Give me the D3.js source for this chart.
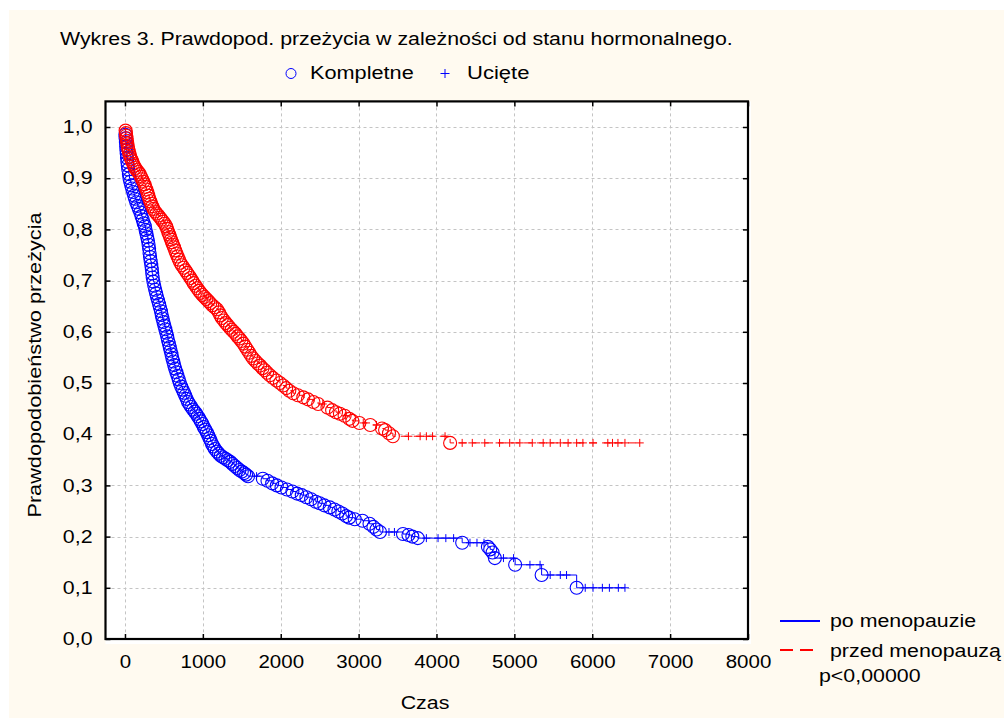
<!DOCTYPE html>
<html><head><meta charset="utf-8">
<script src="https://cdn.jsdelivr.net/npm/d3@7"></script>
<style>body{margin:0;background:#fff;} text{font-family:"Liberation Sans",Arial,sans-serif;fill:#000;}</style>
</head><body>
<svg id="c" width="1004" height="718"></svg>
<script>
const xTicks = [0,1000,2000,3000,4000,5000,6000,7000,8000];
const yTicks = [0,0.1,0.2,0.3,0.4,0.5,0.6,0.7,0.8,0.9,1.0];
const seriesNames = ["po menopauzie","przed menopauzą"];
const markerNames = ["Kompletne","Ucięte"];

// po menopauzie: complete (event) observations [time, survival]
const poEvents = [
[5,.985],[8,.978],[12,.970],[15,.962],[18,.955],[22,.948],[26,.940],[30,.932],[36,.925],[42,.917],[50,.908],[58,.900],[68,.893],[80,.886],[92,.880],[105,.873],[118,.866],[130,.860],[145,.853],[162,.846],[180,.840],[198,.833],[212,.826],[228,.819],[240,.812],[255,.806],[265,.799],[275,.792],[285,.785],[295,.778],[303,.770],[310,.762],[316,.754],[322,.746],[330,.738],[338,.730],[345,.722],[350,.714],[356,.706],[365,.698],[376,.690],[388,.682],[400,.675],[412,.668],[425,.661],[438,.654],[450,.647],[462,.640],[472,.633],[482,.626],[494,.619],[506,.612],[518,.605],[530,.598],[542,.591],[552,.584],[564,.577],[575,.570],[586,.563],[597,.556],[608,.549],[620,.542],[632,.535],[645,.528],[660,.521],[675,.514],[690,.507],[705,.500],[722,.493],[740,.487],[758,.481],[775,.475],[792,.469],[810,.463],[830,.458],[852,.453],[873,.448],[895,.444],[915,.440],[935,.435],[955,.430],[975,.425],[995,.420],[1012,.414],[1030,.409],[1050,.404],[1068,.398],[1085,.392],[1100,.387],[1118,.381],[1136,.376],[1155,.371],[1180,.366],[1205,.362],[1230,.358],[1260,.355],[1290,.352],[1320,.349],[1350,.346],[1380,.342],[1410,.338],[1440,.334],[1470,.330],[1500,.327],[1530,.324],[1555,.321],[1580,.318],
[1770,.313],[1830,.309],[1890,.304],[1950,.300],[2010,.296],[2080,.292],[2150,.288],[2210,.284],[2270,.281],[2330,.277],[2390,.273],[2450,.268],[2500,.265],[2560,.261],[2630,.257],[2690,.253],[2740,.249],[2790,.245],[2840,.240],[2880,.237],[2950,.234],[3050,.231],[3140,.225],[3190,.219],[3230,.214],[3275,.209],
[3570,.205],[3640,.203],[3690,.200],[3760,.197],[4330,.188],[4660,.180],[4690,.175],[4720,.169],[4750,.158],[5010,.145],[5350,.125],[5800,.100]
];
// po menopauzie: censored observations
const poCensored = [
[1690,.318],[3390,.209],[3460,.209],[3870,.197],[4020,.197],[4120,.197],[4220,.197],[4430,.188],[4520,.188],[4610,.188],[4860,.158],[4990,.158],[5200,.145],[5330,.145],[5460,.125],[5590,.125],[5670,.125],[5910,.100],[6010,.100],[6130,.100],[6220,.100],[6335,.100],[6420,.100]
];

// przed menopauzą: complete (event) observations
const przedEvents = [
[8,.993],[12,.988],[16,.983],[20,.978],[25,.973],[30,.968],[36,.962],[42,.957],[50,.952],[58,.947],[68,.942],[80,.937],[92,.933],[105,.928],[118,.924],[132,.920],[150,.916],[170,.912],[190,.908],[205,.903],[220,.898],[235,.893],[250,.888],[262,.883],[275,.878],[288,.872],[300,.866],[312,.860],[324,.855],[336,.850],[350,.845],[366,.840],[385,.835],[405,.831],[428,.827],[450,.823],[470,.819],[490,.815],[510,.811],[528,.806],[542,.801],[555,.795],[568,.790],[580,.785],[592,.780],[604,.775],[616,.770],[630,.765],[645,.759],[660,.753],[675,.747],[692,.741],[710,.735],[730,.730],[752,.725],[775,.720],[798,.715],[820,.710],[842,.705],[862,.700],[882,.695],[905,.690],[928,.685],[950,.680],[972,.676],[995,.672],[1020,.668],[1045,.664],[1070,.660],[1095,.656],[1120,.652],[1150,.648],[1180,.644],[1205,.638],[1225,.632],[1245,.627],[1270,.622],[1295,.617],[1320,.613],[1345,.608],[1370,.604],[1395,.600],[1420,.596],[1445,.591],[1470,.587],[1495,.582],[1520,.577],[1545,.571],[1570,.565],[1595,.559],[1620,.553],[1645,.548],[1675,.543],[1705,.538],[1735,.534],[1765,.529],[1795,.525],[1825,.520],[1860,.515],[1900,.510],[1945,.505],[1990,.500],[2030,.495],[2070,.490],[2110,.485],[2160,.480],[2220,.476],[2290,.472],[2350,.468],[2420,.463],[2480,.459],[2600,.452],[2660,.447],[2710,.443],[2760,.440],[2820,.436],[2880,.430],[2920,.426],[3010,.422],[3150,.418],[3300,.411],[3340,.408],[3390,.402],[3440,.396],[4175,.383]
];
// przed menopauzą: censored observations
const przedCensored = [
[2540,.459],[2830,.436],[3060,.422],[3230,.418],[3640,.396],[3790,.396],[3870,.396],[3950,.396],[4110,.396],[4330,.383],[4460,.383],[4620,.383],[4810,.383],[4940,.383],[5070,.383],[5230,.383],[5370,.383],[5460,.383],[5590,.383],[5690,.383],[5800,.383],[5880,.383],[6010,.383],[6200,.383],[6260,.383],[6330,.383],[6420,.383],[6610,.383]
];

const BLUE = "#0000ff", RED = "#ff0000";
const FS = 17.5, STR = 1.22;
const svg = d3.select("#c");
const L = 105.5, R = 748, T = 101.4, B = 639;
const x = d3.scaleLinear().domain([-250, 8000]).range([L, R]);
const y = d3.scaleLinear().domain([0, 1.05]).range([B, T]);
const fmt = v => d3.format(".1f")(v).replace(".", ",");

function stretch(sel, f) {
  sel.each(function(){
    const len = this.getComputedTextLength();
    d3.select(this).attr("textLength", len * f).attr("lengthAdjust", "spacingAndGlyphs");
  });
}

// backgrounds
svg.append("rect").attr("x",0).attr("y",0).attr("width",1004).attr("height",718).attr("fill","#ffffff");
svg.append("rect").attr("x",9).attr("y",10).attr("width",995).attr("height",708).attr("fill","#fffaf0");
svg.append("rect").attr("x",L).attr("y",T).attr("width",751-L).attr("height",644-T).attr("fill","#ffffff");

// grid
const grid = svg.append("g").attr("stroke","#c4c4c4").attr("stroke-width",1).attr("stroke-dasharray","3,3");
grid.selectAll("line.gx").data(xTicks.filter(d => d < 8000)).join("line")
  .attr("x1", d => Math.round(x(d))+0.5).attr("x2", d => Math.round(x(d))+0.5).attr("y1", T).attr("y2", B);
grid.selectAll("line.gy").data(yTicks.filter(d => d > 0)).join("line")
  .attr("y1", d => Math.round(y(d))+0.5).attr("y2", d => Math.round(y(d))+0.5).attr("x1", L).attr("x2", R);

// curves
function drawSeries(events, censored, color, dash) {
  const last = censored[censored.length-1];
  const pts = [[0,1]].concat(events).concat([[last[0], last[1]]]);
  const line = d3.line().x(d => x(d[0])).y(d => y(d[1])).curve(d3.curveStepAfter);
  svg.append("path").datum(pts).attr("d", line).attr("fill","none").attr("stroke",color)
    .attr("stroke-width",1).attr("stroke-dasharray", dash);
  svg.append("g").selectAll("circle").data(events).join("circle")
    .attr("cx", d => x(d[0])).attr("cy", d => y(d[1])).attr("r", 6.5)
    .attr("fill","none").attr("stroke",color).attr("stroke-width",1.1);
  svg.append("g").selectAll("path").data(censored).join("path")
    .attr("transform", d => `translate(${x(d[0])},${y(d[1])})`)
    .attr("d","M-4,0H4M0,-4V4").attr("stroke",color).attr("stroke-width",1).attr("fill","none");
}
drawSeries(poEvents, poCensored, BLUE, null);
drawSeries(przedEvents, przedCensored, RED, "8,5");

// axes (inward ticks)
const axB = svg.append("g").attr("transform",`translate(0,${B})`)
  .call(d3.axisBottom(x).tickValues(xTicks).tickSizeInner(-5).tickSizeOuter(0).tickPadding(17).tickFormat(d3.format("d")));
const axL = svg.append("g").attr("transform",`translate(${L},0)`)
  .call(d3.axisLeft(y).tickValues(yTicks).tickSizeInner(-5).tickSizeOuter(0).tickPadding(13).tickFormat(fmt));
svg.append("g").attr("transform",`translate(0,${T})`)
  .call(d3.axisTop(x).tickValues(xTicks).tickSizeInner(-5).tickSizeOuter(0).tickFormat(""));
svg.append("g").attr("transform",`translate(${R},0)`)
  .call(d3.axisRight(y).tickValues(yTicks).tickSizeInner(-5).tickSizeOuter(0).tickFormat(""));
svg.selectAll(".domain").remove();
svg.selectAll(".tick line").attr("stroke","#000").attr("stroke-width",1.5);
svg.selectAll(".tick text").attr("font-family",'"Liberation Sans",Arial,sans-serif').attr("font-size",FS).attr("fill","#000");
stretch(axB.selectAll(".tick text"), 1.17);
stretch(axL.selectAll(".tick text"), STR);

// border
svg.append("rect").attr("x",L).attr("y",T).attr("width",R-L).attr("height",B-T)
  .attr("fill","none").attr("stroke","#000").attr("stroke-width",2.2);

// title
const tt = svg.append("text").attr("x",60).attr("y",44.5).attr("font-size",FS)
  .text("Wykres 3. Prawdopod. przeżycia w zależności od stanu hormonalnego.");
stretch(tt, 1.218);

// top legend
svg.append("circle").attr("cx",291).attr("cy",73.5).attr("r",5).attr("fill","none").attr("stroke",BLUE).attr("stroke-width",1);
stretch(svg.append("text").attr("x",310).attr("y",78.5).attr("font-size",FS).text(markerNames[0]), 1.24);
svg.append("path").attr("transform","translate(445,73.5)").attr("d","M-4.5,0H4.5M0,-4.5V4.5").attr("stroke",BLUE).attr("stroke-width",1);
stretch(svg.append("text").attr("x",467).attr("y",78.5).attr("font-size",FS).text(markerNames[1]), 1.26);

// axis titles
stretch(svg.append("text").attr("x",425).attr("y",709).attr("text-anchor","middle").attr("font-size",FS).text("Czas"), STR);
stretch(svg.append("text").attr("transform","translate(41,365) rotate(-90)").attr("text-anchor","middle").attr("font-size",FS).text("Prawdopodobieństwo przeżycia"), 1.24);

// bottom-right legend
svg.append("line").attr("x1",780).attr("x2",820).attr("y1",621).attr("y2",621).attr("stroke",BLUE).attr("stroke-width",2);
svg.append("line").attr("x1",780).attr("x2",813).attr("y1",650).attr("y2",650).attr("stroke",RED).attr("stroke-width",2).attr("stroke-dasharray","13,7");
stretch(svg.append("text").attr("x",830).attr("y",627).attr("font-size",FS).text(seriesNames[0]), STR);
stretch(svg.append("text").attr("x",830).attr("y",657).attr("font-size",FS).text(seriesNames[1]), STR);
stretch(svg.append("text").attr("x",819).attr("y",682).attr("font-size",FS).text("p<0,00000"), STR);
</script>
</body></html>
